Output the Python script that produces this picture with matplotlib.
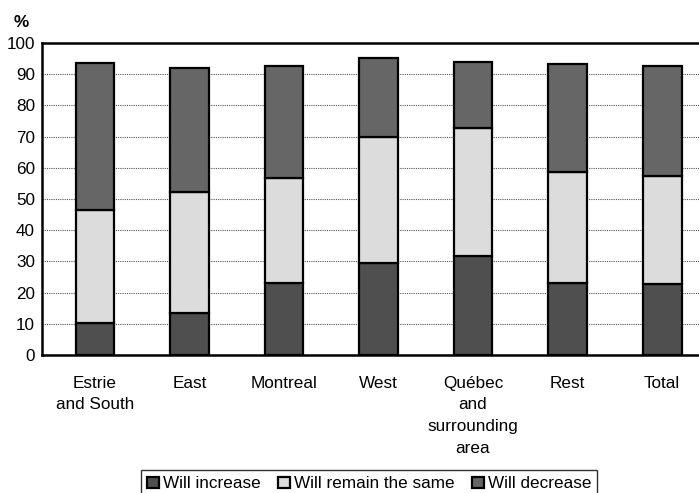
import matplotlib
matplotlib.use("Agg")
import matplotlib.pyplot as plt
import numpy as np

plt.rcParams['font.family'] = ['Liberation Sans', 'DejaVu Sans']

categories = ["Estrie\nand South", "East", "Montreal", "West",
              "Québec\nand\nsurrounding\narea", "Rest", "Total"]
will_increase = [10.3, 13.6, 23.0, 29.5, 31.6, 23.2, 22.7]
will_remain = [36.0, 38.6, 33.6, 40.5, 41.2, 35.4, 34.6]
will_decrease = [47.4, 39.8, 36.0, 25.0, 21.2, 34.7, 35.4]
series_names = ["Will increase", "Will remain the same", "Will decrease"]
y_ticks = list(range(0, 101, 10))

fig = plt.figure(figsize=(6.99, 4.93), dpi=100)
ax = fig.add_axes([0.060, 0.280, 0.963, 0.633])

x = np.arange(len(categories))
w = 0.41
c_inc, c_rem, c_dec = "#4f4f4f", "#dcdcdc", "#666666"
ax.bar(x, will_increase, w, color=c_inc, edgecolor="black", linewidth=1.6,
       label=series_names[0], zorder=3)
ax.bar(x, will_remain, w, bottom=will_increase, color=c_rem, edgecolor="black",
       linewidth=1.6, label=series_names[1], zorder=3)
bottom2 = np.array(will_increase) + np.array(will_remain)
ax.bar(x, will_decrease, w, bottom=bottom2, color=c_dec, edgecolor="black",
       linewidth=1.6, label=series_names[2], zorder=3)

fs = 12.3
ax.set_xlim(-0.56, 6.56)
ax.set_ylim(0, 100)
ax.set_yticks(y_ticks)
ax.set_yticklabels([str(t) for t in y_ticks], fontsize=fs)
ax.set_xticks(x)
ax.set_xticklabels(categories, fontsize=fs, linespacing=1.55)
ax.tick_params(axis='both', length=0, pad=5)
ax.tick_params(axis='x', pad=15)
ax.yaxis.grid(True, linestyle=(0, (1, 1)), color="#555555", linewidth=0.8, zorder=0)
for s in ax.spines.values():
    s.set_linewidth(1.8)
    s.set_color("black")

fig.text(0.020, 0.955, "%", fontsize=fs, fontweight='bold', ha='left', va='center')

leg = fig.legend(loc='upper center', bbox_to_anchor=(0.528, 0.063), ncol=3,
                 fontsize=fs, frameon=True, fancybox=False, edgecolor="black",
                 handlelength=0.7, handleheight=0.7, handletextpad=0.25,
                 columnspacing=1.0, borderpad=0.35)
leg.get_frame().set_linewidth(1.0)

fig.savefig("out.png", dpi=100)
